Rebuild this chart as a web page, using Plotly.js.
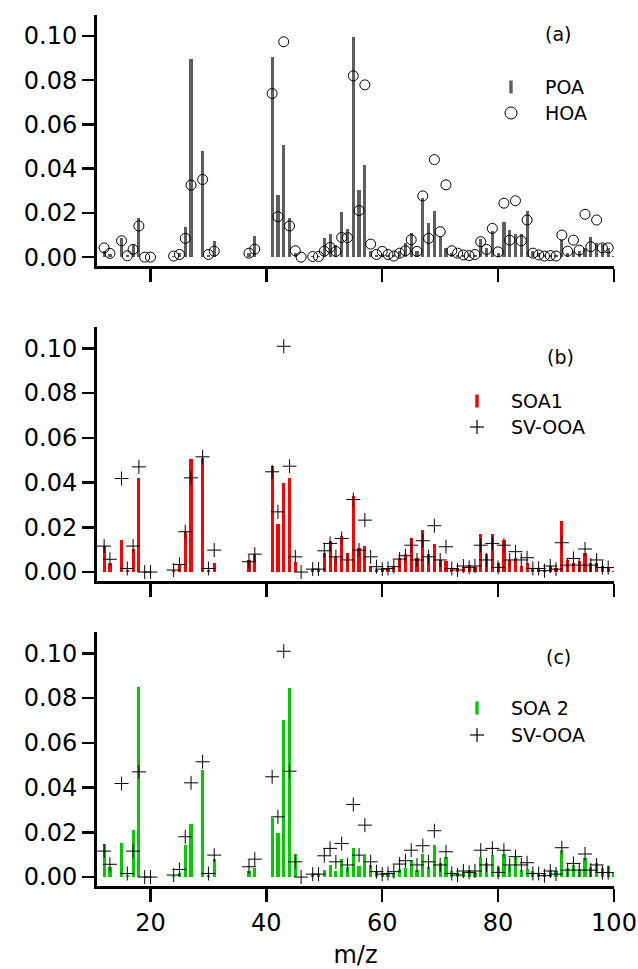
<!DOCTYPE html>
<html>
<head>
<meta charset="utf-8">
<script src="https://cdn.plot.ly/plotly-3.0.1.min.js"></script>
<style>html,body{margin:0;padding:0;background:#fff;}#chart{width:638px;height:969px;}</style>
</head>
<body>
<div id="chart"></div>
<script>
// m/z values
const mz = [12,13,15,16,17,18,19,20,24,25,26,27,29,30,31,37,38,41,42,43,44,45,46,
  48,49,50,51,52,53,54,55,56,57,58,59,60,61,62,63,64,65,66,67,68,69,70,
  71,72,73,74,75,76,77,78,79,80,81,82,83,84,85,86,87,88,89,90,
  91,92,93,94,95,96,97,98,99,100];

// Panel (a)
const poa = [0.003,0.0015,0.0088,0.001,0.0055,0.0176,0,0,0.0003,0.002,0.0138,0.0898,0.0479,0.001,0.0074,0.002,0.0094,0.0903,0.0282,0.0506,0.0176,0.002,0,
  0.0003,0.0005,0.0085,0.0105,0.0055,0.0206,0.0126,0.0997,0.0305,0.0415,0.003,0.001,0.0015,0.0012,0.001,0.003,0.0062,0.011,0.003,0.0267,0.0153,0.021,0.0092,
  0.004,0.002,0.001,0.001,0.001,0.001,0.008,0.004,0.012,0.002,0.0158,0.0123,0.0103,0.0105,0.0209,0.003,0.002,0.001,0.001,0.001,
  0.0077,0.002,0.003,0.003,0.004,0.0092,0.0065,0.006,0.004,0.0005];
const hoa = [0.0042,0.0017,0.0074,0.0006,0.0035,0.0141,0,0,0.0005,0.0012,0.0085,0.0326,0.0351,0.0012,0.0027,0.0018,0.0036,0.074,0.0183,0.0974,0.0141,0.0029,0,
  0.0003,0.0003,0.0027,0.0044,0.0026,0.0089,0.0088,0.082,0.0211,0.0779,0.0059,0.0012,0.0026,0.0012,0.0005,0.0018,0.0029,0.0079,0.0026,0.0277,0.0085,0.0441,0.0115,
  0.0327,0.0029,0.0018,0.001,0.0007,0.0012,0.007,0.0035,0.013,0.0024,0.0244,0.0077,0.0255,0.0074,0.0168,0.0018,0.001,0.0005,0.0007,0.0005,
  0.01,0.0027,0.0077,0.0032,0.0194,0.0047,0.0168,0.0042,0.0042,null];

// Panel (b)
const soa1 = [0.0116,0.0039,0.0143,0.001,0.0103,0.0421,0,0,0.0005,0.0031,0.0183,0.0507,0.051,0.001,0.0042,0.0054,0.008,0.0473,0.0213,0.0399,0.0421,0.0043,0,
  0.001,0.001,0.0086,0.0138,0.0068,0.0162,0.0086,0.0339,0.0106,0.0116,0.0027,0.0009,0.0013,0.0013,0.0027,0.0064,0.008,0.015,0.0064,0.0186,0.008,0.0125,0.0054,
  0.005,0.002,0.002,0.0021,0.003,0.0024,0.017,0.008,0.017,0.004,0.0143,0.0054,0.0064,0.0027,0.0042,0.002,0.002,0.001,0.0027,0.002,
  0.0228,0.0054,0.0042,0.005,0.0086,0.004,0.004,0.0027,0.002,0.0005];
const svooa = [0.0116,0.0057,0.0418,0.0016,0.0116,0.047,0,0,0.0009,0.0034,0.018,0.0421,0.0515,0.0016,0.0098,0.0046,0.008,0.0448,0.0269,0.1009,0.0473,0.0068,0,
  0.0013,0.0013,0.0095,0.0128,0.0068,0.015,0.0054,0.0324,0.0098,0.0232,0.0068,0.0024,0.0013,0.0016,0.0024,0.0058,0.0073,0.012,0.0054,0.014,0.0068,0.0207,0.0054,
  0.0113,0.0016,0.0009,0.0027,0.0021,0.0027,0.012,0.0054,0.0128,0.0021,0.012,0.0054,0.0091,0.0054,0.0064,0.0016,0.0016,0.0006,0.0027,0.0013,
  0.0131,0.0031,0.0061,0.0031,0.0103,0.0031,0.0054,0.002,0.002,null];

// Panel (c)
const soa2 = [0.0148,0.0043,0.0154,0.001,0.0211,0.0849,0,0,0.0003,0.002,0.0143,0.0238,0.048,0.001,0.0081,0.0028,0.004,0.0266,0.0196,0.0704,0.0846,0.0103,0,
  0.001,0.001,0.0031,0.0052,0.0028,0.0082,0.0043,0.0132,0.0049,0.0094,0.0052,0.0025,0.0015,0.0018,0.0013,0.0037,0.004,0.0076,0.0031,0.0101,0.0043,0.0143,0.0061,
  0.0091,0.0025,0.002,0.002,0.0025,0.002,0.0088,0.0061,0.0099,0.0043,0.0103,0.005,0.0088,0.0031,0.0037,0.0025,0.002,0.0018,0.003,0.0025,
  0.0121,0.004,0.0055,0.0037,0.0086,0.0046,0.0061,0.004,0.005,0.002];

const yTicks = [0,0.02,0.04,0.06,0.08,0.10];
const xTicks = [20,40,60,80,100];

const FONT = 'DejaVu Sans';
const W = 638, H = 969, ML = 97, MR = 24, MT = 15, MB = 83;
const PW = W-ML-MR, PH = H-MT-MB;
const px = x => (x-ML)/PW;
const py = y => 1-(y-MT)/PH;

const barW = 0.55;
const plusMarker = {symbol:'cross-thin-open', size:10, color:'#000', line:{width:1, color:'#000'}};
const traces = [
  {type:'bar', x:mz, y:poa, width:barW, marker:{color:'#5e5e5e', line:{width:0}}, xaxis:'x3', yaxis:'y3', name:'POA'},
  {type:'scatter', mode:'markers', x:mz, y:hoa, marker:{symbol:'circle-open', size:10, color:'#000', line:{width:1, color:'#000'}}, xaxis:'x3', yaxis:'y3', name:'HOA'},
  {type:'bar', x:mz, y:soa1, width:barW, marker:{color:'#ff0000', line:{width:0}}, xaxis:'x2', yaxis:'y2', name:'SOA1'},
  {type:'scatter', mode:'markers', x:mz, y:svooa, marker:plusMarker, xaxis:'x2', yaxis:'y2', name:'SV-OOA'},
  {type:'bar', x:mz, y:soa2, width:barW, marker:{color:'#00cc00', line:{width:0}}, xaxis:'x', yaxis:'y', name:'SOA 2'},
  {type:'scatter', mode:'markers', x:mz, y:svooa, marker:plusMarker, xaxis:'x', yaxis:'y', name:'SV-OOA'}
];

const xr = [10.77, 100];
const yr = [-0.004, 0.1095];
function xax(anchor, labels){
  return {range:xr, anchor:anchor, showline:true, linewidth:3, linecolor:'#000', ticks:'outside', ticklen:13, tickwidth:2.5, tickcolor:'#000',
    tickvals:xTicks, showticklabels:labels, showgrid:false, zeroline:false, tickfont:{family:FONT, size:24, color:'#000'}};
}
function yax(anchor, dom){
  return {range:yr, domain:dom, anchor:anchor, showline:true, linewidth:3, linecolor:'#000', ticks:'outside', ticklen:12, tickwidth:2.5, tickcolor:'#000',
    tickvals:yTicks, tickformat:'.2f', showgrid:false, zeroline:false, tickfont:{family:FONT, size:24, color:'#000'}};
}
const domA = [py(266), 1];
const domB = [py(581), py(327)];
const domC = [0, py(632)];

const xa = xax('y', true);
xa.title = {text:'m/z', font:{family:FONT, size:24, color:'#000'}, standoff:12};

const ann = [];
const shapes = [];
function txt(x,y,t,anchor){
  ann.push({xref:'paper', yref:'paper', x:px(x), y:py(y), text:t, showarrow:false, xanchor:anchor||'left', yanchor:'middle', font:{family:FONT, size:19, color:'#000'}});
}
function barSym(x,y,color){
  shapes.push({type:'rect', xref:'paper', yref:'paper', x0:px(x-1.7), x1:px(x+1.7), y0:py(y+6.5), y1:py(y-6.5), fillcolor:color, line:{width:0}});
}
function plusSym(x,y){
  shapes.push({type:'line', xref:'paper', yref:'paper', x0:px(x-7), x1:px(x+7), y0:py(y), y1:py(y), line:{color:'#000', width:1.2}});
  shapes.push({type:'line', xref:'paper', yref:'paper', x0:px(x), x1:px(x), y0:py(y-7), y1:py(y+7), line:{color:'#000', width:1.2}});
}
function circSym(x,y){
  shapes.push({type:'circle', xref:'paper', yref:'paper', x0:px(x-6), x1:px(x+6), y0:py(y+6), y1:py(y-6), line:{color:'#000', width:1}});
}
txt(558,34,'(a)','center');
barSym(511,87,'#5e5e5e'); txt(543,87,'POA');
circSym(511,113); txt(543,113,'HOA');

txt(560,357,'(b)','center');
barSym(477,401,'#ff0000'); txt(509,401,'SOA1');
plusSym(477,427); txt(509,427,'SV-OOA');

txt(558,657,'(c)','center');
barSym(477,708,'#00cc00'); txt(509,708,'SOA 2');
plusSym(477,735); txt(509,735,'SV-OOA');

const layout = {
  width:W, height:H, margin:{l:ML, r:MR, t:MT, b:MB}, showlegend:false,
  paper_bgcolor:'#fff', plot_bgcolor:'#fff', font:{family:FONT, color:'#000'},
  xaxis: xa,
  xaxis2: xax('y2', false),
  xaxis3: xax('y3', false),
  yaxis: yax('x', domC),
  yaxis2: yax('x2', domB),
  yaxis3: yax('x3', domA),
  annotations: ann, shapes: shapes, bargap:0
};
Plotly.newPlot('chart', traces, layout, {displayModeBar:false, staticPlot:true});
</script>
</body>
</html>
